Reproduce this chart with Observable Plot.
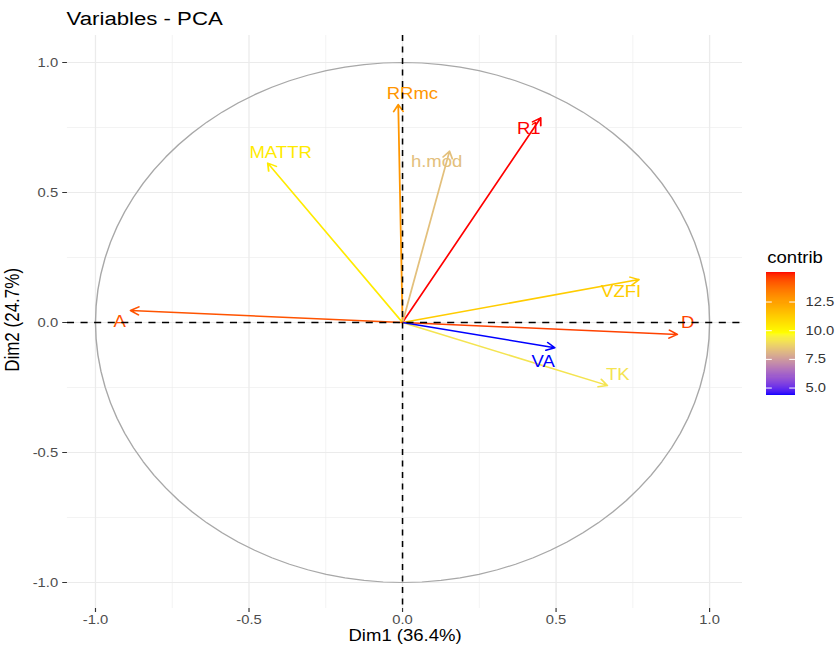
<!DOCTYPE html>
<html><head><meta charset="utf-8">
<script src="https://cdn.jsdelivr.net/npm/d3@7"></script>
<script src="https://cdn.jsdelivr.net/npm/@observablehq/plot@0.6"></script>
<style>
html,body{margin:0;padding:0;background:#fff;overflow:hidden;}
#wrap{position:relative;width:708px;height:645px;transform:scaleX(1.1808);transform-origin:0 0;}
#wrap svg{position:absolute;left:0;top:0;}
</style></head><body><div id="wrap"></div>
<script>
// ---- data ----
const variables = ["RRmc", "R1", "h.mod", "MATTR", "VZFI", "D", "TK", "VA", "A"];
const dim1 = [-0.014, 0.450, 0.153, -0.439, 0.770, 0.895, 0.667, 0.496, -0.886];
const dim2 = [0.838, 0.787, 0.659, 0.613, 0.165, -0.046, -0.242, -0.097, 0.046];
const contrib = [12.72, 15.10, 8.30, 10.31, 11.24, 14.55, 9.12, 4.35, 14.26];
const labelX = [0.032, 0.411, 0.111, -0.397, 0.712, 0.929, 0.701, 0.458, -0.921];
const labelY = [0.877, 0.745, 0.617, 0.651, 0.117, -0.003, -0.201, -0.150, 0.001];
const xTicks = [-1, -0.5, 0, 0.5, 1];
const yTicks = [-1, -0.5, 0, 0.5, 1];
const minorTicks = [-0.75, -0.25, 0.25, 0.75];
const legendTicks = [5, 7.5, 10, 12.5];
const titleText = "Variables - PCA";
const xTitle = "Dim1 (36.4%)";
const yTitle = "Dim2 (24.7%)";
const legendTitle = "contrib";
const gradientColors = ["blue", "yellow", "red"];

// ---- build ----
const FONT = "'Liberation Sans', Arial, sans-serif";
const rows = variables.map((name, i) => ({
  name, x0: 0, y0: 0, x: dim1[i], y: dim2[i], contrib: contrib[i], lx: labelX[i], ly: labelY[i]
}));
const [cmin, cmax] = d3.extent(contrib);
const colorScale = {type: "linear", domain: [cmin, (cmin + cmax) / 2, cmax], range: gradientColors, interpolate: "lab"};
const fmt = d => d.toFixed(1);

// unit reference circle (geometry, not data)
const circle = d3.range(101).map(i => ({x: Math.cos(2 * Math.PI * i / 100), y: Math.sin(2 * Math.PI * i / 100)}));

const W = 708, H = 645;
const main = Plot.plot({
  width: W, height: H,
  marginLeft: 56.7, marginRight: W - 628.4, marginTop: 35, marginBottom: H - 608,
  style: {fontFamily: FONT, background: "transparent"},
  x: {domain: [-1.091, 1.1075]},
  y: {domain: [-1.1, 1.1038]},
  color: colorScale,
  marks: [
    Plot.gridX(minorTicks, {stroke: "#ebebeb", strokeOpacity: 1, strokeWidth: 0.55}),
    Plot.gridY(minorTicks, {stroke: "#ebebeb", strokeOpacity: 1, strokeWidth: 0.55}),
    Plot.gridX(xTicks, {stroke: "#ebebeb", strokeOpacity: 1, strokeWidth: 1.1}),
    Plot.gridY(yTicks, {stroke: "#ebebeb", strokeOpacity: 1, strokeWidth: 1.1}),
    Plot.axisX(xTicks, {tickSize: 4, tickPadding: 3, tickFormat: fmt, fontSize: 12.5, stroke: "#333333", fill: "#4d4d4d", label: null}),
    Plot.axisY(yTicks, {tickSize: 4, tickPadding: 4, tickFormat: fmt, fontSize: 12.5, stroke: "#333333", fill: "#4d4d4d", label: null}),
    Plot.line(circle, {x: "x", y: "y", stroke: "#a8a8a8", strokeWidth: 1.2}),
    Plot.arrow(rows, {x1: "x0", y1: "y0", x2: "x", y2: "y", stroke: "contrib", strokeWidth: 1.5, headLength: 8, headAngle: 60}),
    Plot.text(rows, {x: "lx", y: "ly", text: "name", fill: "contrib", fontSize: 15.7}),
    Plot.ruleX([0], {stroke: "black", strokeWidth: 1.3, strokeDasharray: "6,5.5"}),
    Plot.ruleY([0], {stroke: "black", strokeWidth: 1.3, strokeDasharray: "6,5.5"}),
    Plot.text([titleText], {frameAnchor: "top-left", lineAnchor: "middle", textAnchor: "start", dx: -0.8, dy: -17, fontSize: 18.8, fill: "black"}),
    Plot.text([xTitle], {frameAnchor: "bottom", lineAnchor: "middle", dy: 27.5, fontSize: 15.7, fill: "black"}),
    Plot.text([yTitle], {x: -1.27, y: 0.01, rotate: -90, lineAnchor: "middle", textAnchor: "middle", fontSize: 17, fill: "black"})
  ]
});

// colour bar legend
const LX0 = 648.7, LX1 = 673.3, LY0 = 271.7, LY1 = 395;
const nStrips = 120;
const step = (cmax - cmin) / nStrips;
const strips = d3.range(nStrips).map(i => ({a: cmin + i * step, b: cmin + (i + 1) * step, v: cmin + (i + 0.5) * step}));
const legend = Plot.plot({
  width: W, height: H,
  marginLeft: LX0, marginRight: W - LX1, marginTop: LY0, marginBottom: H - LY1,
  style: {fontFamily: FONT, background: "transparent"},
  x: {domain: [0, 1], axis: null},
  y: {domain: [cmin, cmax], axis: null},
  color: colorScale,
  marks: [
    Plot.rect(strips, {x1: 0, x2: 1, y1: "a", y2: "b", fill: "v", inset: 0, shapeRendering: "crispEdges"}),
    Plot.ruleY(legendTicks, {x1: 0, x2: 0.2, stroke: "white", strokeWidth: 1}),
    Plot.ruleY(legendTicks, {x1: 0.8, x2: 1, stroke: "white", strokeWidth: 1}),
    Plot.text(legendTicks, {x: 1, y: d => d, text: fmt, textAnchor: "start", dx: 8.4, fontSize: 12.5, fill: "#333"}),
    Plot.text([legendTitle], {frameAnchor: "top-left", lineAnchor: "middle", textAnchor: "start", dx: 0.6, dy: -14, fontSize: 15.7, fill: "black"})
  ]
});

const wrap = document.getElementById("wrap");
wrap.appendChild(main);
wrap.appendChild(legend);
</script>
</body></html>
